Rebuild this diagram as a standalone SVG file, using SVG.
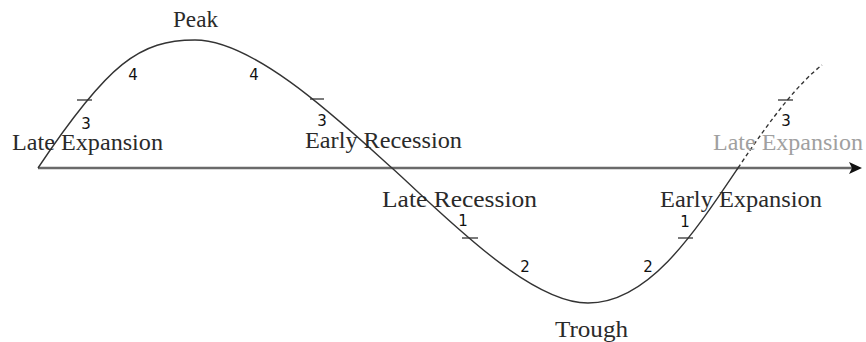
<svg xmlns="http://www.w3.org/2000/svg" width="866" height="342" viewBox="0 0 866 342">
<style>
.lbl{font-family:"Liberation Serif","Times New Roman",serif;font-size:24px;fill:#2a2a2a}
.grey{fill:#a0a0a0}
.num{font-family:"DejaVu Sans","Liberation Sans",sans-serif;font-size:15px;fill:#111;text-anchor:middle}
.curve{fill:none;stroke:#333;stroke-width:1.4}
.dash{fill:none;stroke:#333;stroke-width:1.4;stroke-dasharray:4 3}
.tick{stroke:#333;stroke-width:1.3}
.axis{stroke:#6a6a6a;stroke-width:2.6}
</style>
<rect width="866" height="342" fill="#fff"/>
<g id="connectors">
  <line class="axis" x1="38" y1="168" x2="854" y2="168"/>
  <path d="M849,162 L862,168 L849,174 L852,168 Z" fill="#111"/>
  <path class="curve" d="M38,168 C108,63 140,40 195,40 C255,40 342,123 392,168 C442,213 528,303 588,303 C648,303 693,235 738,168"/>
  <path class="dash" d="M738,168 C773,115.5 798.5,83.5 822,65"/>
  <line class="tick" x1="77" y1="100" x2="92" y2="100"/>
  <line class="tick" x1="310" y1="99" x2="324" y2="99"/>
  <line class="tick" x1="462" y1="238" x2="478" y2="238"/>
  <line class="tick" x1="678" y1="238" x2="693" y2="238"/>
  <line class="tick" x1="778" y1="100" x2="793" y2="100"/>
</g>
<g id="peak"><text class="lbl" x="173" y="27" textLength="45" lengthAdjust="spacingAndGlyphs">Peak</text></g>
<g id="late-expansion"><text class="lbl" x="12" y="150" textLength="151" lengthAdjust="spacingAndGlyphs">Late Expansion</text></g>
<g id="early-recession"><text class="lbl" x="305" y="148" textLength="157" lengthAdjust="spacingAndGlyphs">Early Recession</text></g>
<g id="late-recession"><text class="lbl" x="382" y="207" textLength="155" lengthAdjust="spacingAndGlyphs">Late Recession</text></g>
<g id="early-expansion"><text class="lbl" x="660" y="207" textLength="162" lengthAdjust="spacingAndGlyphs">Early Expansion</text></g>
<g id="late-expansion-next"><text class="lbl grey" x="713" y="150" textLength="150" lengthAdjust="spacingAndGlyphs">Late Expansion</text></g>
<g id="trough"><text class="lbl" x="555" y="337" textLength="73" lengthAdjust="spacingAndGlyphs">Trough</text></g>
<g id="phase-numbers">
  <text class="num" x="86" y="129">3</text>
  <text class="num" x="133" y="80">4</text>
  <text class="num" x="254" y="80">4</text>
  <text class="num" x="322" y="126">3</text>
  <text class="num" x="463" y="226">1</text>
  <text class="num" x="525" y="272">2</text>
  <text class="num" x="648" y="272">2</text>
  <text class="num" x="685" y="227">1</text>
  <text class="num" x="786" y="126">3</text>
</g>
</svg>
